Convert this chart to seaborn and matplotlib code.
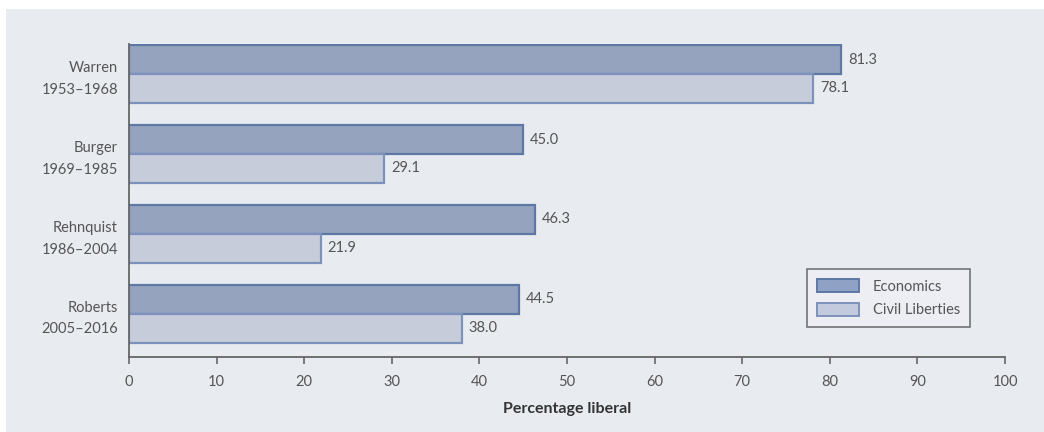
import matplotlib
matplotlib.use("Agg")
import matplotlib.pyplot as plt
from matplotlib.patches import Rectangle, Patch
import seaborn as sns
import pandas as pd

# Chief Justice eras and share of liberal decisions (%)
courts = ["Warren\n1953–1968", "Burger\n1969–1985", "Rehnquist\n1986–2004", "Roberts\n2005–2016"]
economics = [81.3, 45.0, 46.3, 44.5]
civil_liberties = [78.1, 29.1, 21.9, 38.0]
series = ["Economics", "Civil Liberties"]
x_ticks = [0, 10, 20, 30, 40, 50, 60, 70, 80, 90, 100]

fills = {"Economics": "#8fa1c5", "Civil Liberties": "#c4cadd"}
edges = {"Economics": "#5e78a4", "Civil Liberties": "#7d92bb"}
text_color = "#555555"
panel_color = "#e8ebf0"

df = pd.DataFrame({
    "court": courts * 2,
    "value": economics + civil_liberties,
    "series": [series[0]] * len(courts) + [series[1]] * len(courts),
})

sns.set_theme(style="white")
plt.rcParams["font.family"] = ["Lato", "DejaVu Sans"]

fig = plt.figure(figsize=(10.44, 4.32), dpi=100)
fig.patch.set_facecolor("white")
# light backdrop panel behind the chart
fig.add_artist(Rectangle((6 / 1044, 0.0), 1 - 6 / 1044, 1 - 9 / 432,
                         transform=fig.transFigure, facecolor=panel_color,
                         edgecolor="none", zorder=0))

ax = fig.add_axes([129 / 1044, 1 - 357 / 432, (1005 - 129) / 1044, (357 - 44) / 432])
ax.set_facecolor("none")

sns.barplot(data=df, y="court", x="value", hue="series", hue_order=series,
            order=courts, orient="h", width=0.72, palette=fills,
            dodge=True, ax=ax, legend=False, errorbar=None)

# bar edges per series
for container, name in zip(ax.containers, series):
    for bar in container:
        bar.set_edgecolor(edges[name])
        bar.set_linewidth(1.6)
    ax.bar_label(container, labels=[f"{v:.1f}" for v in container.datavalues],
                 padding=5, fontsize=10.5, color=text_color)

ax.set_xlim(0, 100)
ax.set_ylim(3.54, -0.375)
ax.set_xticks(x_ticks)
ax.set_xticklabels([str(t) for t in x_ticks], fontsize=10.5, color=text_color)
ax.tick_params(axis="x", direction="out", length=5, width=1.2, color="#666666",
               pad=8, bottom=True)
ax.tick_params(axis="y", length=0, pad=8)
for lab in ax.get_yticklabels():
    lab.set_fontsize(10.5)
    lab.set_color(text_color)
    lab.set_linespacing(1.65)
    lab.set_horizontalalignment("right")

ax.set_ylabel("")
ax.set_xlabel("Percentage liberal", fontsize=11.5, fontweight="bold", color="#333333",
              labelpad=9)

for side in ["top", "right"]:
    ax.spines[side].set_visible(False)
for side in ["left", "bottom"]:
    ax.spines[side].set_color("#666666")
    ax.spines[side].set_linewidth(1.3)

handles = [Patch(facecolor=fills[s], edgecolor=edges[s], linewidth=1.4, label=s) for s in series]
leg = ax.legend(handles=handles, loc="lower right", bbox_to_anchor=(0.96, 0.095),
                fontsize=10.5, frameon=True, fancybox=False, handlelength=2.9,
                handleheight=1.0, labelspacing=0.6, borderpad=0.7, handletextpad=0.9,
                borderaxespad=0.0)
leg.get_frame().set_edgecolor("#555555")
leg.get_frame().set_facecolor("#eef0f4")
leg.get_frame().set_linewidth(1.2)
for t in leg.get_texts():
    t.set_color(text_color)

fig.savefig("out.png", dpi=100, facecolor=fig.get_facecolor())
